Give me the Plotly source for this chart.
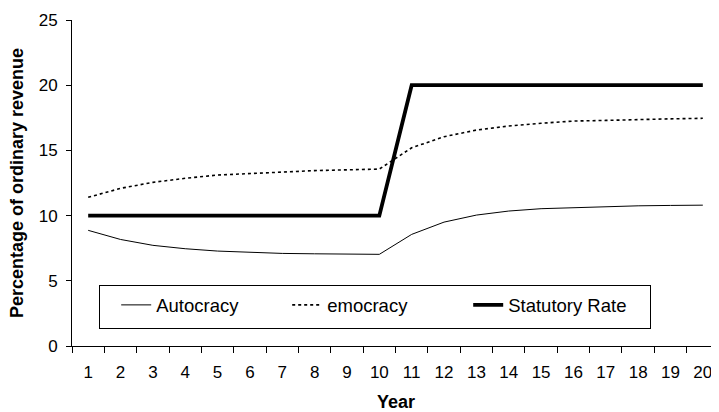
import plotly.graph_objects as go

years = [str(i) for i in range(1, 21)]
autocracy = [8.87, 8.17, 7.72, 7.46, 7.28, 7.17, 7.10, 7.07, 7.05, 7.03,
             8.56, 9.50, 10.04, 10.35, 10.53, 10.62, 10.70, 10.75, 10.78, 10.80]
democracy = [11.40, 12.09, 12.55, 12.86, 13.11, 13.24, 13.36, 13.45, 13.51, 13.57,
             15.20, 16.05, 16.56, 16.87, 17.08, 17.25, 17.30, 17.38, 17.42, 17.46]
statutory = [10] * 10 + [20] * 10

FONT = "Liberation Sans, Arial, sans-serif"

fig = go.Figure()
fig.add_trace(go.Scatter(x=years, y=autocracy, mode="lines", name="Autocracy",
                         line=dict(color="black", width=1), legendwidth=126))
fig.add_trace(go.Scatter(x=years, y=democracy, mode="lines", name="emocracy",
                         line=dict(color="black", width=1.6, dash="dot"), legendwidth=136))
fig.add_trace(go.Scatter(x=years, y=statutory, mode="lines", name="Statutory Rate",
                         line=dict(color="black", width=3.8), legendwidth=136))

# page body has an 8px default margin; size the figure so the plot lands where the reference has it
fig.update_layout(
    width=711, height=404,
    margin=dict(l=64, r=0, t=12, b=66),
    paper_bgcolor="white", plot_bgcolor="white",
    font=dict(family=FONT, color="black"),
    showlegend=True,
    legend=dict(orientation="h", x=0.041, y=0.186, xanchor="left", yanchor="top",
                bgcolor="white", bordercolor="black", borderwidth=1,
                font=dict(size=18.5, family=FONT), traceorder="normal",
                title=dict(text="&nbsp;", side="left", font=dict(size=24))),
    xaxis=dict(type="category", range=[-0.5, 19.5], tickson="boundaries",
               ticks="outside", ticklen=6, tickcolor="black", showline=True,
               linecolor="black", linewidth=1, showgrid=False, zeroline=False,
               tickfont=dict(size=17), ticklabelstandoff=11, automargin=False),
    yaxis=dict(range=[0, 25], dtick=5, ticks="outside", ticklen=5, tickcolor="black",
               showline=True, linecolor="black", linewidth=1, showgrid=False,
               zeroline=False, tickfont=dict(size=17), ticklabelstandoff=5,
               automargin=False),
    annotations=[
        dict(text="<b>Percentage of ordinary revenue</b>", textangle=-90,
             xref="paper", yref="paper", x=-0.085, y=0.5, xanchor="center",
             yanchor="middle", showarrow=False, font=dict(size=18, family=FONT)),
        dict(text="<b>Year</b>", xref="paper", yref="paper", x=0.5, y=-0.172,
             xanchor="center", yanchor="middle", showarrow=False,
             font=dict(size=18, family=FONT)),
    ],
)

fig.write_html("out.html")
